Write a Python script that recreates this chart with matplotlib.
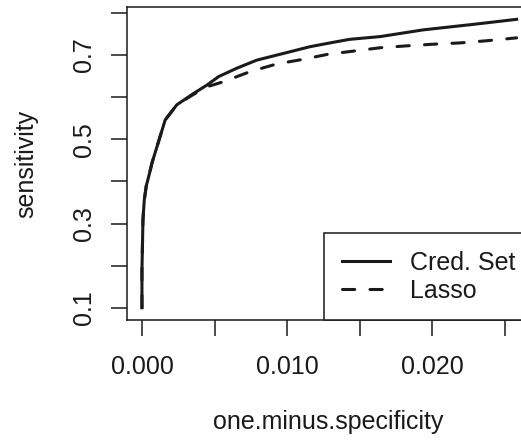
import matplotlib
matplotlib.use("Agg")
import matplotlib.pyplot as plt

plt.rcParams["font.family"] = ["Liberation Sans", "DejaVu Sans"]

# ROC points (one.minus.specificity, sensitivity)
cred_x = [0.0, 0.0, 0.00007, 0.00016, 0.00030, 0.00046, 0.00070, 0.00103, 0.0016,
          0.0024, 0.00356, 0.00448, 0.00528, 0.00654, 0.0079, 0.0102, 0.01157,
          0.01295, 0.0143, 0.0164, 0.01937, 0.0228, 0.0258]
cred_y = [0.1, 0.19, 0.31, 0.356, 0.39, 0.411, 0.445, 0.482, 0.546,
          0.582, 0.609, 0.629, 0.649, 0.669, 0.688, 0.708, 0.72,
          0.729, 0.7375, 0.744, 0.76, 0.773, 0.785]

lasso_x = [0.0, 0.0, 0.00007, 0.00016, 0.00030, 0.00046, 0.00070, 0.00103, 0.0016,
           0.0024, 0.00356, 0.0045, 0.00563, 0.00746, 0.00928, 0.0111, 0.0128,
           0.01467, 0.0164, 0.01823, 0.0201, 0.0219, 0.0237, 0.0258]
lasso_y = [0.1, 0.19, 0.31, 0.356, 0.39, 0.411, 0.445, 0.482, 0.546,
           0.582, 0.607, 0.625, 0.637, 0.661, 0.679, 0.69, 0.702,
           0.710, 0.7175, 0.722, 0.726, 0.729, 0.734, 0.741]

x_ticks = [0.0, 0.005, 0.010, 0.015, 0.020, 0.025]
x_labels = ["0.000", "", "0.010", "", "0.020", ""]
y_ticks = [0.1, 0.2, 0.3, 0.4, 0.5, 0.6, 0.7, 0.8]
y_labels = ["0.1", "", "0.3", "", "0.5", "", "0.7", ""]

W, H = 521, 441
fig = plt.figure(figsize=(W / 100, H / 100), dpi=100)
# plot region runs off the right edge, as in the reference
ax = fig.add_axes([127 / W, (H - 320) / H, (530 - 127) / W, (320 - 7) / H])

ax.plot(cred_x, cred_y, color="#1a1a1a", lw=2.2, label="Cred. Set")
ax.plot(lasso_x, lasso_y, color="#1a1a1a", lw=2.2, linestyle=(0, (4, 5)),
        dash_capstyle="round", label="Lasso")

ax.set_xlim(-0.00103, 0.02672)
ax.set_ylim(0.0708, 0.8143)

ax.set_xticks(x_ticks)
ax.set_xticklabels(x_labels)
ax.set_yticks(y_ticks)
ax.set_yticklabels(y_labels)

for s in ax.spines.values():
    s.set_linewidth(1.1)
    s.set_color("#1a1a1a")

ax.tick_params(axis="both", direction="out", length=11.5, width=1.1,
               color="#1a1a1a", labelsize=18, labelcolor="#1a1a1a")
ax.tick_params(axis="x", pad=14)
ax.tick_params(axis="y", pad=11, labelrotation=90)
for lab in ax.get_yticklabels():
    lab.set_va("center")

ax.set_xlabel("one.minus.specificity", fontsize=18, color="#1a1a1a", labelpad=22)
ax.set_ylabel("sensitivity", fontsize=18, color="#1a1a1a", labelpad=24)

leg = ax.legend(loc="lower left", bbox_to_anchor=(324 / W, (H - 320) / H),
                bbox_transform=fig.transFigure, fontsize=18, frameon=True,
                fancybox=False, framealpha=1, edgecolor="#1a1a1a",
                handlelength=1.92, handletextpad=0.84, labelspacing=0.16,
                borderpad=0.7, borderaxespad=0)
leg.get_frame().set_linewidth(1.1)
for t in leg.get_texts():
    t.set_color("#1a1a1a")

fig.savefig("out.png", dpi=100)
